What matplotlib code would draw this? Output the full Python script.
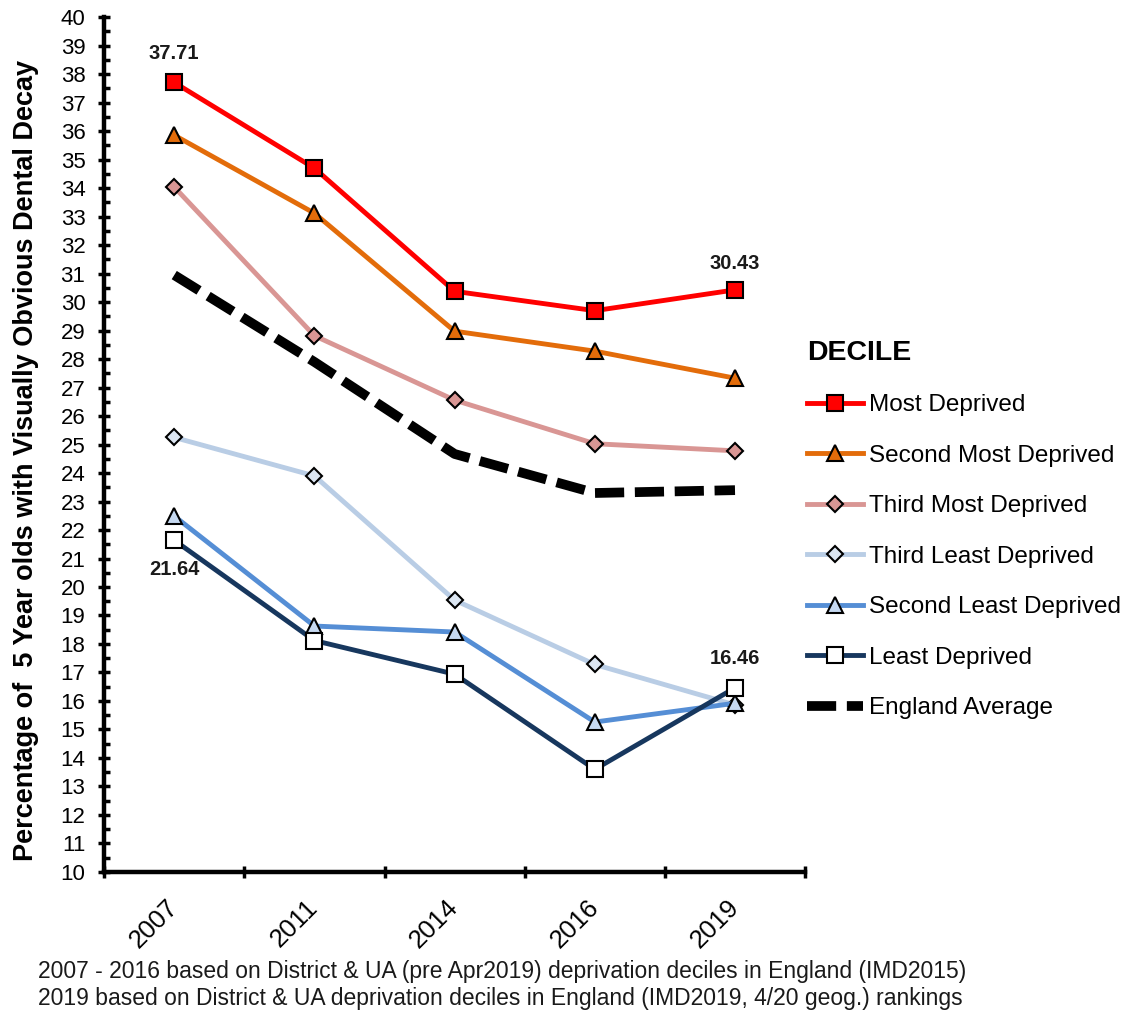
import numpy as np
import matplotlib
matplotlib.use("Agg")
import matplotlib.pyplot as plt
import matplotlib.transforms as mtransforms
from matplotlib.ticker import MultipleLocator, FixedLocator

plt.rcParams["font.family"] = ["Liberation Sans", "DejaVu Sans"]

years = ["2007", "2011", "2014", "2016", "2019"]

most_deprived = [37.71, 34.70, 30.38, 29.70, 30.43]
second_most = [35.86, 33.12, 28.98, 28.28, 27.33]
third_most = [34.04, 28.82, 26.56, 25.03, 24.78]
third_least = [25.25, 23.90, 19.54, 17.28, 15.86]
second_least = [22.49, 18.63, 18.42, 15.26, 15.92]
least_deprived = [21.64, 18.12, 16.94, 13.60, 16.46]
england_avg = [30.95, 27.90, 24.67, 23.30, 23.40]

fig = plt.figure(figsize=(11.26, 10.15), dpi=100)
ax = fig.add_axes([0.0925, 0.141, 0.6225, 0.842])

x = np.arange(len(years))

# series: (values, label, line colour, marker, marker face, marker size)
series = [
    (most_deprived, "Most Deprived", "#FF0000", "s", "#FF0000", 11),
    (second_most, "Second Most Deprived", "#E36C0A", "^", "#E36C0A", 11),
    (third_most, "Third Most Deprived", "#D99694", "D", "#D99694", 8),
    (third_least, "Third Least Deprived", "#B9CDE5", "D", "#DCE6F2", 8),
    (second_least, "Second Least Deprived", "#558ED5", "^", "#C6D9F1", 11),
    (least_deprived, "Least Deprived", "#17375E", "s", "white", 11),
]

for vals, lab, col, mk, face, ms in series:
    ax.plot(x, vals, color=col, lw=3.5, marker=mk, markersize=ms,
            markerfacecolor=face, markeredgecolor="black", markeredgewidth=1.5,
            label=lab, zorder=3)

ax.plot(x, england_avg, color="black", lw=7, dashes=(3.0, 1.1),
        label="England Average", zorder=2)

# data labels
lab_kw = dict(ha="center", va="center", fontsize=14.5, fontweight="bold",
              color="#1a1a1a", textcoords="offset points")
ax.annotate(f"{most_deprived[0]:.2f}", (x[0], most_deprived[0]), xytext=(0, 21), **lab_kw)
ax.annotate(f"{most_deprived[-1]:.2f}", (x[-1], most_deprived[-1]), xytext=(0, 19), **lab_kw)
ax.annotate(f"{least_deprived[0]:.2f}", (x[0], least_deprived[0]), xytext=(0, -21), **lab_kw)
ax.annotate(f"{least_deprived[-1]:.2f}", (x[-1], least_deprived[-1]), xytext=(0, 21), **lab_kw)

ax.set_ylim(10, 40)
ax.set_xlim(-0.5, len(years) - 0.5)
ax.yaxis.set_major_locator(MultipleLocator(1))
ax.yaxis.set_minor_locator(MultipleLocator(0.5))
ax.tick_params(axis="y", which="major", direction="inout", length=9, width=2.5,
               labelsize=16, pad=9)
ax.tick_params(axis="y", which="minor", direction="in", length=4, width=2.5)

ax.xaxis.set_major_locator(FixedLocator(np.arange(-0.5, len(years), 1.0)))
ax.xaxis.set_minor_locator(FixedLocator(x))
ax.set_xticklabels([], minor=False)
ax.set_xticklabels(years, minor=True, rotation=45, ha="right", va="center",
                   rotation_mode="anchor", fontsize=18.5)
shift = mtransforms.ScaledTranslation(-0.08, 0, fig.dpi_scale_trans)
for t in ax.xaxis.get_minorticklabels():
    t.set_transform(t.get_transform() + shift)
ax.tick_params(axis="x", which="major", direction="inout", length=9, width=2.5)
ax.tick_params(axis="x", which="minor", length=0, pad=23)

for s in ["top", "right"]:
    ax.spines[s].set_visible(False)
for s in ["left", "bottom"]:
    ax.spines[s].set_linewidth(3.2)

ax.set_ylabel("Percentage of  5 Year olds with Visually Obvious Dental Decay",
              fontsize=19.5, fontweight="bold")
ax.yaxis.set_label_coords(-0.093, 0.481)

leg = fig.legend(loc="upper left", bbox_to_anchor=(0.7165, 0.665), frameon=False,
                 title="DECILE", fontsize=17.5, labelspacing=1.17,
                 handlelength=2.3, handletextpad=0.25, borderpad=0,
                 borderaxespad=0, alignment="left")
leg.get_title().set_fontweight("bold")
leg.get_title().set_fontsize(20.5)
leg._legend_handle_box.sep = 12  # gap between title and first entry

fig.text(0.0337, 0.0424,
         "2007 - 2016 based on District & UA (pre Apr2019) deprivation deciles in England (IMD2015)",
         fontsize=16.5, va="center", color="#1a1a1a")
fig.text(0.0337, 0.0158,
         "2019 based on District & UA deprivation deciles in England (IMD2019, 4/20 geog.) rankings",
         fontsize=16.5, va="center", color="#1a1a1a")

fig.savefig("out.png", dpi=100)
